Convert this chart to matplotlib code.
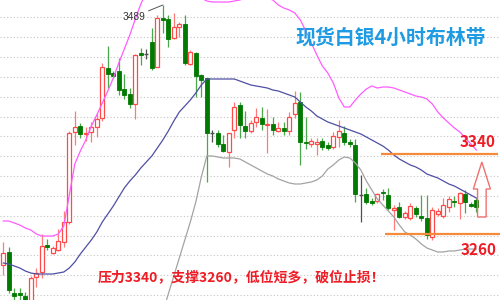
import numpy as np
import matplotlib
matplotlib.use("Agg")
import matplotlib.pyplot as plt
from matplotlib.patches import Rectangle, Polygon

plt.rcParams['font.family'] = ['Noto Sans CJK SC', 'DejaVu Sans']

# ---- 4H candles (open / high / low / close) ----
opens = [3229, 3242, 3201, 3201, 3198, 3189, 3217, 3222, 3249, 3241,
         3244, 3252, 3272, 3362, 3368, 3360.5, 3362, 3367, 3376, 3426,
         3421, 3423, 3405, 3400, 3390, 3441, 3440, 3452, 3427, 3476,
         3475, 3456, 3467, 3470, 3430, 3441, 3419, 3416, 3361, 3361,
         3350, 3342, 3364, 3389, 3368, 3363, 3372, 3376, 3369, 3370,
         3363, 3366, 3363, 3380, 3392, 3352, 3350, 3350, 3353, 3349,
         3347, 3357, 3361, 3352, 3349, 3299, 3300, 3293, 3293, 3302.5,
         3299, 3284.5, 3287, 3277, 3276, 3286, 3278, 3276, 3257, 3280,
         3278, 3287, 3293, 3291, 3300, 3290, 3294]
closes = [3241, 3204, 3198, 3199, 3190, 3216, 3221, 3248, 3247.5, 3246,
          3253, 3272, 3361, 3367, 3360, 3361.5, 3367, 3375, 3427, 3420,
          3418, 3404, 3399, 3390, 3439, 3439, 3440, 3426, 3476, 3474,
          3455, 3467, 3470, 3431, 3442, 3418, 3414, 3361, 3361, 3350,
          3343, 3361, 3387, 3369, 3363, 3371, 3377, 3370, 3370, 3364,
          3366, 3363, 3377, 3391, 3352, 3351, 3353, 3352, 3347, 3346,
          3358, 3363, 3352, 3350, 3300, 3299, 3292, 3291, 3300, 3301.5,
          3286, 3286, 3277, 3281, 3288, 3280, 3276, 3259, 3284, 3283,
          3289, 3295, 3292, 3301, 3292, 3288, 3287]
highs = [3252, 3247, 3206, 3206, 3202, 3218, 3226, 3260, 3255, 3248,
         3265, 3283, 3363, 3383, 3371, 3367, 3372, 3381, 3431, 3448,
         3423, 3436, 3420, 3406, 3440, 3446, 3445, 3466, 3479, 3489,
         3479, 3481, 3472, 3479, 3444, 3442, 3420, 3416, 3364, 3364,
         3359, 3361, 3392, 3392, 3383, 3374, 3386, 3387, 3385, 3377,
         3372, 3372, 3382, 3403, 3402, 3377, 3356, 3356, 3356, 3352,
         3362, 3374, 3368, 3355, 3355, 3319, 3306, 3296, 3301, 3305,
         3306, 3289, 3292, 3283, 3291, 3288, 3299, 3299, 3287, 3286,
         3296, 3298, 3298, 3302, 3304, 3292, 3296]
lows = [3219, 3201, 3194, 3194, 3188, 3186, 3207, 3216, 3244, 3240,
        3243, 3247, 3270, 3349, 3356, 3353, 3352, 3357, 3373, 3406,
        3416, 3399, 3395, 3386, 3375, 3429, 3435, 3424, 3427, 3461,
        3447, 3455, 3457, 3429, 3429, 3397, 3397, 3312, 3352, 3347,
        3342, 3327, 3356, 3356, 3356, 3361, 3367, 3364, 3341, 3359,
        3362, 3359, 3359, 3376, 3329, 3345, 3347, 3339, 3344, 3344,
        3345, 3347, 3349, 3347, 3292, 3272, 3290, 3289, 3291, 3294,
        3284, 3264, 3276, 3275, 3274, 3277, 3273, 3255, 3254, 3278,
        3276, 3282, 3287, 3275, 3281, 3287, 3282]

# ---- Bollinger bands ----
nan = np.nan
boll_upper = [3273, 3273, 3271, 3269, 3266, 3264, 3260, 3258, 3258, 3258,
              3260, 3268, 3299, 3330, 3343, 3354, 3368, 3379, 3391, 3403,
              3416, 3431, 3445, 3459, 3475, 3490, 3502, 3510, 3516, 3519,
              3519, 3516, 3512, 3508, 3504, 3500, 3496, 3493, 3492, 3492,
              3492, 3492, 3493, 3494, 3496, 3497, 3497, 3497, 3496, 3494,
              3489, 3486, 3484, 3481, 3474, 3463, 3451, 3439, 3428, 3421,
              3411, 3396, 3387, 3387, 3394, 3400, 3405, 3408, 3406, 3407,
              3407, 3406, 3404, 3402, 3400, 3398, 3397, 3395, 3390, 3382,
              3376, 3371, 3366, 3362, 3356, 3350, 3344]
boll_mid = [3231, 3230, 3228, 3226, 3223, 3221, 3220, 3220, 3220, 3220,
            3221, 3222, 3226, 3232, 3240, 3247, 3254, 3262, 3272, 3280,
            3288, 3297, 3306, 3313, 3319, 3326, 3332, 3338, 3346, 3354,
            3363, 3373, 3382, 3388, 3394, 3401, 3409, 3415, 3415, 3415,
            3415, 3415, 3415, 3413, 3411, 3409, 3408, 3407, 3406, 3404,
            3403, 3401, 3399, 3397, 3392, 3387, 3383, 3378, 3375, 3372,
            3370, 3368, 3366, 3364, 3362, 3360, 3357, 3354, 3351, 3348,
            3344, 3339, 3335, 3332, 3329, 3327, 3324, 3320, 3318, 3316,
            3313, 3310, 3308, 3305, 3302, 3299, 3296]
boll_lower = [nan] * 29 + [
    3182, 3200, 3218, 3236, 3254, 3272, 3292, 3317, 3338, 3338,
    3337, 3336, 3336, 3336, 3335, 3332, 3329, 3326, 3323, 3320,
    3318, 3315, 3313, 3311, 3310, 3310, 3311, 3312, 3314, 3318,
    3325, 3329, 3334, 3337, 3336, 3331, 3324, 3313, 3304, 3295,
    3289, 3283, 3277, 3269, 3262, 3259, 3255, 3250, 3246, 3244,
    3242, 3242, 3243, 3243, 3244, 3245, 3245, 3245]

resistance = 3340
support = 3260
peak = 3489
title = "现货白银4小时布林带"
note = "压力3340，支撑3260，低位短多，破位止损！"

# colours
UP_EDGE, UP_WICK = '#ff4a4a', '#ff7a7a'
DN_BODY, DN_WICK = '#007a00', '#4aa84a'
DOJI = '#505050'

fig = plt.figure(figsize=(5, 3), dpi=100)
ax = fig.add_axes([0, 0, 1, 1])
ax.set_xlim(-0.6, 90.3)
ax.set_ylim(3194, 3494)

# dotted horizontal grid
grid_levels = 3476.7 - 19.84 * np.arange(15)
ax.set_yticks(grid_levels)
ax.set_xticks([])
ax.grid(axis='y', color='#c4c4c4', linestyle=(0, (1, 2)), linewidth=0.8)
ax.tick_params(left=False, labelleft=False)
for s in ax.spines.values():
    s.set_visible(False)

# candles
w = 0.7
for i, (o, h, l, c) in enumerate(zip(opens, highs, lows, closes)):
    if c > o:
        ax.vlines(i, l, h, color=UP_WICK, lw=0.9, zorder=2)
        ax.add_patch(Rectangle((i - w / 2, o), w, c - o, facecolor='white',
                               edgecolor=UP_EDGE, lw=0.9, zorder=3))
    elif c < o:
        ax.vlines(i, l, h, color=DN_WICK, lw=0.9, zorder=2)
        ax.add_patch(Rectangle((i - w / 2, c), w, o - c, facecolor=DN_BODY,
                               edgecolor=DN_BODY, lw=0.6, zorder=3))
    else:
        ax.vlines(i, l, h, color=DOJI, lw=0.9, zorder=2)
        ax.hlines(o, i - w / 2, i + w / 2, color=DOJI, lw=1.0, zorder=3)

# bands
x = np.arange(len(opens))
ax.plot(x, boll_upper, color='#ff5cff', lw=0.9, zorder=4)
ax.plot(x, boll_mid, color='#4f4fa3', lw=0.9, zorder=4)
ax.plot(x, boll_lower, color='#a3a3a3', lw=0.9, zorder=4)

# peak annotation
peak_idx = int(np.argmax(highs))
ax.annotate(str(peak), xy=(peak_idx, peak), xytext=(peak_idx - 3.1, peak - 12),
            ha='right', va='center', fontsize=7.3, color='#333333',
            family=['Liberation Sans', 'DejaVu Sans'], zorder=6,
            arrowprops=dict(arrowstyle='-', color='#555555', lw=0.7,
                            relpos=(1.0, 1.0), shrinkA=0, shrinkB=0))

# resistance / support lines
ax.hlines(resistance, 68.7, 90.0, color='#f58a3a', lw=1.6, zorder=5)
ax.hlines(support, 69.4, 90.3, color='#f58a3a', lw=1.6, zorder=5)
ax.text(89.4, resistance + 4, str(resistance), ha='right', va='bottom',
        fontsize=11, fontweight='bold', color='#ee1c25', zorder=6)
ax.text(89.7, support - 8, str(support), ha='right', va='top',
        fontsize=11, fontweight='bold', color='#ee1c25', zorder=6)

# hollow up arrow beyond the last bar
ax_x = len(opens)
a_lo, a_hi, a_neck = 3277, 3332, 3305
hw, sw = 1.55, 0.78
arrow = Polygon([(ax_x, a_hi), (ax_x + hw, a_neck), (ax_x + sw, a_neck),
                 (ax_x + sw, a_lo), (ax_x - sw, a_lo), (ax_x - sw, a_neck),
                 (ax_x - hw, a_neck)], closed=True, facecolor='none',
                edgecolor='#f07070', lw=1.0, zorder=6)
ax.add_patch(arrow)

# captions
ax.text(0.782, 0.875, title, transform=ax.transAxes, ha='center', va='center',
        fontsize=14.3, fontweight='bold', color='#1e9be2', zorder=7)
ax.text(0.482, 0.077, note, transform=ax.transAxes, ha='center', va='center',
        fontsize=10, fontweight='bold', color='#ee1c25', zorder=7)

fig.savefig('out.png', dpi=100)
